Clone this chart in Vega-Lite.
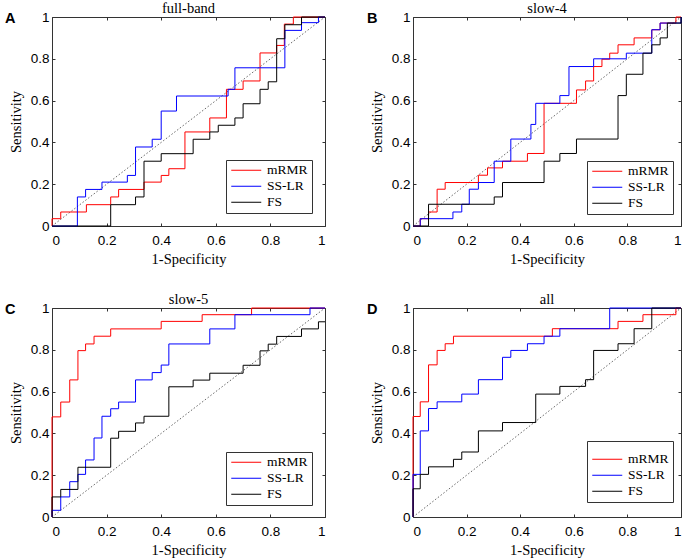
{
"$schema":"https://vega.github.io/schema/vega-lite/v6.json",
"background":"white",
"autosize":{"type":"pad"},
"padding":{"left":4,"top":0,"right":0,"bottom":0},
"datasets":{
"diag":[{"x":0,"y":0},{"x":1,"y":1}],
"roc":[
{"panel":"full-band","method":"mRMR","i":0,"x":0,"y":0},
{"panel":"full-band","method":"mRMR","i":1,"x":0,"y":0.035},
{"panel":"full-band","method":"mRMR","i":2,"x":0.032,"y":0.067},
{"panel":"full-band","method":"mRMR","i":3,"x":0.126,"y":0.102},
{"panel":"full-band","method":"mRMR","i":4,"x":0.215,"y":0.139},
{"panel":"full-band","method":"mRMR","i":5,"x":0.244,"y":0.175},
{"panel":"full-band","method":"mRMR","i":6,"x":0.337,"y":0.21},
{"panel":"full-band","method":"mRMR","i":7,"x":0.4,"y":0.242},
{"panel":"full-band","method":"mRMR","i":8,"x":0.428,"y":0.274},
{"panel":"full-band","method":"mRMR","i":9,"x":0.487,"y":0.45},
{"panel":"full-band","method":"mRMR","i":10,"x":0.578,"y":0.517},
{"panel":"full-band","method":"mRMR","i":11,"x":0.639,"y":0.654},
{"panel":"full-band","method":"mRMR","i":12,"x":0.7,"y":0.694},
{"panel":"full-band","method":"mRMR","i":13,"x":0.762,"y":0.828},
{"panel":"full-band","method":"mRMR","i":14,"x":0.823,"y":0.864},
{"panel":"full-band","method":"mRMR","i":15,"x":0.851,"y":0.966},
{"panel":"full-band","method":"mRMR","i":16,"x":0.884,"y":1},
{"panel":"full-band","method":"mRMR","i":17,"x":1,"y":1},
{"panel":"full-band","method":"SS-LR","i":0,"x":0,"y":0},
{"panel":"full-band","method":"SS-LR","i":1,"x":0.093,"y":0.139},
{"panel":"full-band","method":"SS-LR","i":2,"x":0.123,"y":0.175},
{"panel":"full-band","method":"SS-LR","i":3,"x":0.183,"y":0.21},
{"panel":"full-band","method":"SS-LR","i":4,"x":0.276,"y":0.242},
{"panel":"full-band","method":"SS-LR","i":5,"x":0.306,"y":0.378},
{"panel":"full-band","method":"SS-LR","i":6,"x":0.367,"y":0.415},
{"panel":"full-band","method":"SS-LR","i":7,"x":0.4,"y":0.55},
{"panel":"full-band","method":"SS-LR","i":8,"x":0.456,"y":0.622},
{"panel":"full-band","method":"SS-LR","i":9,"x":0.645,"y":0.654},
{"panel":"full-band","method":"SS-LR","i":10,"x":0.67,"y":0.757},
{"panel":"full-band","method":"SS-LR","i":11,"x":0.853,"y":0.936},
{"panel":"full-band","method":"SS-LR","i":12,"x":0.914,"y":0.973},
{"panel":"full-band","method":"SS-LR","i":13,"x":0.976,"y":1},
{"panel":"full-band","method":"SS-LR","i":14,"x":1,"y":1},
{"panel":"full-band","method":"FS","i":0,"x":0,"y":0},
{"panel":"full-band","method":"FS","i":1,"x":0.215,"y":0.102},
{"panel":"full-band","method":"FS","i":2,"x":0.306,"y":0.139},
{"panel":"full-band","method":"FS","i":3,"x":0.337,"y":0.31},
{"panel":"full-band","method":"FS","i":4,"x":0.4,"y":0.346},
{"panel":"full-band","method":"FS","i":5,"x":0.517,"y":0.415},
{"panel":"full-band","method":"FS","i":6,"x":0.578,"y":0.45},
{"panel":"full-band","method":"FS","i":7,"x":0.609,"y":0.482},
{"panel":"full-band","method":"FS","i":8,"x":0.67,"y":0.517},
{"panel":"full-band","method":"FS","i":9,"x":0.7,"y":0.585},
{"panel":"full-band","method":"FS","i":10,"x":0.762,"y":0.654},
{"panel":"full-band","method":"FS","i":11,"x":0.792,"y":0.69},
{"panel":"full-band","method":"FS","i":12,"x":0.823,"y":0.896},
{"panel":"full-band","method":"FS","i":13,"x":0.853,"y":0.963},
{"panel":"full-band","method":"FS","i":14,"x":0.914,"y":1},
{"panel":"full-band","method":"FS","i":15,"x":1,"y":1},
{"panel":"slow-4","method":"mRMR","i":0,"x":0,"y":0},
{"panel":"slow-4","method":"mRMR","i":1,"x":0.027,"y":0.035},
{"panel":"slow-4","method":"mRMR","i":2,"x":0.058,"y":0.067},
{"panel":"slow-4","method":"mRMR","i":3,"x":0.09,"y":0.176},
{"panel":"slow-4","method":"mRMR","i":4,"x":0.12,"y":0.208},
{"panel":"slow-4","method":"mRMR","i":5,"x":0.244,"y":0.243},
{"panel":"slow-4","method":"mRMR","i":6,"x":0.278,"y":0.278},
{"panel":"slow-4","method":"mRMR","i":7,"x":0.334,"y":0.31},
{"panel":"slow-4","method":"mRMR","i":8,"x":0.427,"y":0.347},
{"panel":"slow-4","method":"mRMR","i":9,"x":0.489,"y":0.587},
{"panel":"slow-4","method":"mRMR","i":10,"x":0.61,"y":0.651},
{"panel":"slow-4","method":"mRMR","i":11,"x":0.644,"y":0.694},
{"panel":"slow-4","method":"mRMR","i":12,"x":0.674,"y":0.763},
{"panel":"slow-4","method":"mRMR","i":13,"x":0.705,"y":0.798},
{"panel":"slow-4","method":"mRMR","i":14,"x":0.734,"y":0.827},
{"panel":"slow-4","method":"mRMR","i":15,"x":0.765,"y":0.867},
{"panel":"slow-4","method":"mRMR","i":16,"x":0.825,"y":0.9},
{"panel":"slow-4","method":"mRMR","i":17,"x":0.891,"y":0.939},
{"panel":"slow-4","method":"mRMR","i":18,"x":0.922,"y":0.971},
{"panel":"slow-4","method":"mRMR","i":19,"x":0.981,"y":1},
{"panel":"slow-4","method":"mRMR","i":20,"x":1,"y":1},
{"panel":"slow-4","method":"SS-LR","i":0,"x":0,"y":0},
{"panel":"slow-4","method":"SS-LR","i":1,"x":0.027,"y":0.035},
{"panel":"slow-4","method":"SS-LR","i":2,"x":0.149,"y":0.067},
{"panel":"slow-4","method":"SS-LR","i":3,"x":0.182,"y":0.104},
{"panel":"slow-4","method":"SS-LR","i":4,"x":0.21,"y":0.176},
{"panel":"slow-4","method":"SS-LR","i":5,"x":0.244,"y":0.208},
{"panel":"slow-4","method":"SS-LR","i":6,"x":0.303,"y":0.31},
{"panel":"slow-4","method":"SS-LR","i":7,"x":0.365,"y":0.416},
{"panel":"slow-4","method":"SS-LR","i":8,"x":0.44,"y":0.486},
{"panel":"slow-4","method":"SS-LR","i":9,"x":0.458,"y":0.587},
{"panel":"slow-4","method":"SS-LR","i":10,"x":0.548,"y":0.624},
{"panel":"slow-4","method":"SS-LR","i":11,"x":0.582,"y":0.763},
{"panel":"slow-4","method":"SS-LR","i":12,"x":0.674,"y":0.8},
{"panel":"slow-4","method":"SS-LR","i":13,"x":0.796,"y":0.827},
{"panel":"slow-4","method":"SS-LR","i":14,"x":0.891,"y":0.939},
{"panel":"slow-4","method":"SS-LR","i":15,"x":0.922,"y":0.971},
{"panel":"slow-4","method":"SS-LR","i":16,"x":1,"y":1},
{"panel":"slow-4","method":"FS","i":0,"x":0,"y":0},
{"panel":"slow-4","method":"FS","i":1,"x":0.058,"y":0.104},
{"panel":"slow-4","method":"FS","i":2,"x":0.303,"y":0.139},
{"panel":"slow-4","method":"FS","i":3,"x":0.334,"y":0.208},
{"panel":"slow-4","method":"FS","i":4,"x":0.489,"y":0.31},
{"panel":"slow-4","method":"FS","i":5,"x":0.548,"y":0.347},
{"panel":"slow-4","method":"FS","i":6,"x":0.61,"y":0.416},
{"panel":"slow-4","method":"FS","i":7,"x":0.765,"y":0.624},
{"panel":"slow-4","method":"FS","i":8,"x":0.796,"y":0.726},
{"panel":"slow-4","method":"FS","i":9,"x":0.858,"y":0.827},
{"panel":"slow-4","method":"FS","i":10,"x":0.891,"y":0.867},
{"panel":"slow-4","method":"FS","i":11,"x":0.922,"y":0.9},
{"panel":"slow-4","method":"FS","i":12,"x":0.949,"y":0.971},
{"panel":"slow-4","method":"FS","i":13,"x":1,"y":1},
{"panel":"slow-5","method":"mRMR","i":0,"x":0,"y":0},
{"panel":"slow-5","method":"mRMR","i":1,"x":0,"y":0.479},
{"panel":"slow-5","method":"mRMR","i":2,"x":0.032,"y":0.55},
{"panel":"slow-5","method":"mRMR","i":3,"x":0.065,"y":0.656},
{"panel":"slow-5","method":"mRMR","i":4,"x":0.095,"y":0.796},
{"panel":"slow-5","method":"mRMR","i":5,"x":0.123,"y":0.828},
{"panel":"slow-5","method":"mRMR","i":6,"x":0.154,"y":0.865},
{"panel":"slow-5","method":"mRMR","i":7,"x":0.215,"y":0.9},
{"panel":"slow-5","method":"mRMR","i":8,"x":0.4,"y":0.936},
{"panel":"slow-5","method":"mRMR","i":9,"x":0.55,"y":0.968},
{"panel":"slow-5","method":"mRMR","i":10,"x":0.731,"y":1},
{"panel":"slow-5","method":"mRMR","i":11,"x":1,"y":1},
{"panel":"slow-5","method":"SS-LR","i":0,"x":0,"y":0},
{"panel":"slow-5","method":"SS-LR","i":1,"x":0,"y":0.032},
{"panel":"slow-5","method":"SS-LR","i":2,"x":0.032,"y":0.096},
{"panel":"slow-5","method":"SS-LR","i":3,"x":0.065,"y":0.169},
{"panel":"slow-5","method":"SS-LR","i":4,"x":0.095,"y":0.204},
{"panel":"slow-5","method":"SS-LR","i":5,"x":0.123,"y":0.273},
{"panel":"slow-5","method":"SS-LR","i":6,"x":0.154,"y":0.378},
{"panel":"slow-5","method":"SS-LR","i":7,"x":0.183,"y":0.482},
{"panel":"slow-5","method":"SS-LR","i":8,"x":0.215,"y":0.518},
{"panel":"slow-5","method":"SS-LR","i":9,"x":0.244,"y":0.55},
{"panel":"slow-5","method":"SS-LR","i":10,"x":0.306,"y":0.656},
{"panel":"slow-5","method":"SS-LR","i":11,"x":0.367,"y":0.691},
{"panel":"slow-5","method":"SS-LR","i":12,"x":0.4,"y":0.727},
{"panel":"slow-5","method":"SS-LR","i":13,"x":0.428,"y":0.828},
{"panel":"slow-5","method":"SS-LR","i":14,"x":0.578,"y":0.9},
{"panel":"slow-5","method":"SS-LR","i":15,"x":0.67,"y":0.968},
{"panel":"slow-5","method":"SS-LR","i":16,"x":0.945,"y":1},
{"panel":"slow-5","method":"SS-LR","i":17,"x":1,"y":1},
{"panel":"slow-5","method":"FS","i":0,"x":0,"y":0},
{"panel":"slow-5","method":"FS","i":1,"x":0,"y":0.096},
{"panel":"slow-5","method":"FS","i":2,"x":0.032,"y":0.132},
{"panel":"slow-5","method":"FS","i":3,"x":0.095,"y":0.238},
{"panel":"slow-5","method":"FS","i":4,"x":0.215,"y":0.377},
{"panel":"slow-5","method":"FS","i":5,"x":0.244,"y":0.41},
{"panel":"slow-5","method":"FS","i":6,"x":0.306,"y":0.45},
{"panel":"slow-5","method":"FS","i":7,"x":0.337,"y":0.482},
{"panel":"slow-5","method":"FS","i":8,"x":0.428,"y":0.623},
{"panel":"slow-5","method":"FS","i":9,"x":0.517,"y":0.655},
{"panel":"slow-5","method":"FS","i":10,"x":0.578,"y":0.688},
{"panel":"slow-5","method":"FS","i":11,"x":0.7,"y":0.726},
{"panel":"slow-5","method":"FS","i":12,"x":0.762,"y":0.795},
{"panel":"slow-5","method":"FS","i":13,"x":0.792,"y":0.827},
{"panel":"slow-5","method":"FS","i":14,"x":0.823,"y":0.864},
{"panel":"slow-5","method":"FS","i":15,"x":0.914,"y":0.9},
{"panel":"slow-5","method":"FS","i":16,"x":0.976,"y":0.934},
{"panel":"slow-5","method":"FS","i":17,"x":1,"y":0.934},
{"panel":"all","method":"mRMR","i":0,"x":0,"y":0},
{"panel":"all","method":"mRMR","i":1,"x":0,"y":0.481},
{"panel":"all","method":"mRMR","i":2,"x":0.027,"y":0.551},
{"panel":"all","method":"mRMR","i":3,"x":0.058,"y":0.728},
{"panel":"all","method":"mRMR","i":4,"x":0.09,"y":0.797},
{"panel":"all","method":"mRMR","i":5,"x":0.12,"y":0.829},
{"panel":"all","method":"mRMR","i":6,"x":0.151,"y":0.865},
{"panel":"all","method":"mRMR","i":7,"x":0.52,"y":0.901},
{"panel":"all","method":"mRMR","i":8,"x":0.765,"y":0.936},
{"panel":"all","method":"mRMR","i":9,"x":0.858,"y":0.968},
{"panel":"all","method":"mRMR","i":10,"x":0.981,"y":1},
{"panel":"all","method":"mRMR","i":11,"x":1,"y":1},
{"panel":"all","method":"SS-LR","i":0,"x":0,"y":0},
{"panel":"all","method":"SS-LR","i":1,"x":0,"y":0.204},
{"panel":"all","method":"SS-LR","i":2,"x":0.027,"y":0.412},
{"panel":"all","method":"SS-LR","i":3,"x":0.058,"y":0.519},
{"panel":"all","method":"SS-LR","i":4,"x":0.09,"y":0.551},
{"panel":"all","method":"SS-LR","i":5,"x":0.182,"y":0.588},
{"panel":"all","method":"SS-LR","i":6,"x":0.244,"y":0.657},
{"panel":"all","method":"SS-LR","i":7,"x":0.334,"y":0.764},
{"panel":"all","method":"SS-LR","i":8,"x":0.365,"y":0.797},
{"panel":"all","method":"SS-LR","i":9,"x":0.427,"y":0.829},
{"panel":"all","method":"SS-LR","i":10,"x":0.489,"y":0.865},
{"panel":"all","method":"SS-LR","i":11,"x":0.548,"y":0.901},
{"panel":"all","method":"SS-LR","i":12,"x":0.734,"y":1},
{"panel":"all","method":"SS-LR","i":13,"x":1,"y":1},
{"panel":"all","method":"FS","i":0,"x":0,"y":0},
{"panel":"all","method":"FS","i":1,"x":0,"y":0.135},
{"panel":"all","method":"FS","i":2,"x":0.027,"y":0.204},
{"panel":"all","method":"FS","i":3,"x":0.058,"y":0.24},
{"panel":"all","method":"FS","i":4,"x":0.151,"y":0.276},
{"panel":"all","method":"FS","i":5,"x":0.182,"y":0.311},
{"panel":"all","method":"FS","i":6,"x":0.244,"y":0.412},
{"panel":"all","method":"FS","i":7,"x":0.334,"y":0.452},
{"panel":"all","method":"FS","i":8,"x":0.458,"y":0.588},
{"panel":"all","method":"FS","i":9,"x":0.548,"y":0.625},
{"panel":"all","method":"FS","i":10,"x":0.644,"y":0.657},
{"panel":"all","method":"FS","i":11,"x":0.674,"y":0.797},
{"panel":"all","method":"FS","i":12,"x":0.765,"y":0.829},
{"panel":"all","method":"FS","i":13,"x":0.825,"y":0.901},
{"panel":"all","method":"FS","i":14,"x":0.891,"y":1},
{"panel":"all","method":"FS","i":15,"x":1,"y":1}
]},
"config":{
"view":{"stroke":"#333","strokeWidth":1},
"axis":{"domain":false,"grid":false,"tickSize":-3,"tickColor":"#333","labelFont":"Liberation Sans","labelFontSize":13.5,"labelColor":"#000","titleFont":"Liberation Serif","titleFontSize":14.5,"titleFontWeight":"normal","titleColor":"#000","format":"~g"},
"title":{"font":"Liberation Serif","fontSize":14.5,"fontWeight":"normal","color":"#000","offset":-6},
"legend":{"fillColor":"white","strokeColor":"#333","padding":3.5,"rowPadding":1,"symbolType":"M-3,0H3","symbolSize":100,"symbolStrokeWidth":1,"symbolOffset":10,"labelOffset":14,"labelFont":"Liberation Serif","labelFontSize":13.5,"labelColor":"#000"}
},
"concat":[
{"width":273,"height":209,"title":{"text":"full-band"},
"layer":[
{"data":{"name":"diag"},"mark":{"type":"line","stroke":"#555","strokeDash":[1.5,2],"strokeWidth":0.9},
"encoding":{"x":{"field":"x","type":"quantitative","scale":{"domain":[0,1],"nice":false},"axis":{"orient":"bottom","values":[0,0.2,0.4,0.6,0.8,1],"title":"1-Specificity","labelPadding":10,"titlePadding":6}},
"y":{"field":"y","type":"quantitative","scale":{"domain":[0,1],"nice":false},"axis":{"orient":"left","values":[0,0.2,0.4,0.6,0.8,1],"title":"Sensitivity","labelPadding":6,"titlePadding":7}}}},
{"data":{"name":"roc"},"transform":[{"filter":"datum.panel === 'full-band'"}],"mark":{"type":"line","interpolate":"step-after","strokeWidth":1},
"encoding":{"x":{"field":"x","type":"quantitative","scale":{"domain":[0,1],"nice":false},"axis":{"orient":"top","values":[0,0.2,0.4,0.6,0.8,1],"labels":false,"title":null}},
"y":{"field":"y","type":"quantitative","scale":{"domain":[0,1],"nice":false},"axis":{"orient":"right","values":[0,0.2,0.4,0.6,0.8,1],"labels":false,"title":null}},
"color":{"field":"method","type":"nominal","scale":{"domain":["mRMR","SS-LR","FS"],"range":["#ff0000","#0000ff","#000000"]},"legend":{"title":null,"orient":"none","legendX":174,"legendY":143,"labelExpr":"datum.label + '\u00a0\u00a0\u00a0\u00a0'"}},
"order":{"field":"i","type":"quantitative"}}},
{"data":{"values":[{"letter":"A"}]},"mark":{"type":"text","font":"Liberation Sans","fontWeight":"bold","fontSize":14.5,"align":"left","baseline":"alphabetic"},
"encoding":{"x":{"datum":-0.172,"type":"quantitative","scale":{"domain":[0,1],"nice":false},"axis":null},"y":{"datum":0.972,"type":"quantitative","scale":{"domain":[0,1],"nice":false},"axis":null},"text":{"field":"letter"}}}
],
"resolve":{"axis":{"x":"independent","y":"independent"}}},
{"width":268,"height":209,"title":{"text":"slow-4"},
"layer":[
{"data":{"name":"diag"},"mark":{"type":"line","stroke":"#555","strokeDash":[1.5,2],"strokeWidth":0.9},
"encoding":{"x":{"field":"x","type":"quantitative","scale":{"domain":[0,1],"nice":false},"axis":{"orient":"bottom","values":[0,0.2,0.4,0.6,0.8,1],"title":"1-Specificity","labelPadding":10,"titlePadding":6}},
"y":{"field":"y","type":"quantitative","scale":{"domain":[0,1],"nice":false},"axis":{"orient":"left","values":[0,0.2,0.4,0.6,0.8,1],"title":"Sensitivity","labelPadding":6,"titlePadding":7}}}},
{"data":{"name":"roc"},"transform":[{"filter":"datum.panel === 'slow-4'"}],"mark":{"type":"line","interpolate":"step-after","strokeWidth":1},
"encoding":{"x":{"field":"x","type":"quantitative","scale":{"domain":[0,1],"nice":false},"axis":{"orient":"top","values":[0,0.2,0.4,0.6,0.8,1],"labels":false,"title":null}},
"y":{"field":"y","type":"quantitative","scale":{"domain":[0,1],"nice":false},"axis":{"orient":"right","values":[0,0.2,0.4,0.6,0.8,1],"labels":false,"title":null}},
"color":{"field":"method","type":"nominal","scale":{"domain":["mRMR","SS-LR","FS"],"range":["#ff0000","#0000ff","#000000"]},"legend":{"title":null,"orient":"none","legendX":174,"legendY":144,"labelExpr":"datum.label"}},
"order":{"field":"i","type":"quantitative"}}},
{"data":{"values":[{"letter":"B"}]},"mark":{"type":"text","font":"Liberation Sans","fontWeight":"bold","fontSize":14.5,"align":"left","baseline":"alphabetic"},
"encoding":{"x":{"datum":-0.172,"type":"quantitative","scale":{"domain":[0,1],"nice":false},"axis":null},"y":{"datum":0.972,"type":"quantitative","scale":{"domain":[0,1],"nice":false},"axis":null},"text":{"field":"letter"}}}
],
"resolve":{"axis":{"x":"independent","y":"independent"}}},
{"width":273,"height":209,"title":{"text":"slow-5"},
"layer":[
{"data":{"name":"diag"},"mark":{"type":"line","stroke":"#555","strokeDash":[1.5,2],"strokeWidth":0.9},
"encoding":{"x":{"field":"x","type":"quantitative","scale":{"domain":[0,1],"nice":false},"axis":{"orient":"bottom","values":[0,0.2,0.4,0.6,0.8,1],"title":"1-Specificity","labelPadding":10,"titlePadding":6}},
"y":{"field":"y","type":"quantitative","scale":{"domain":[0,1],"nice":false},"axis":{"orient":"left","values":[0,0.2,0.4,0.6,0.8,1],"title":"Sensitivity","labelPadding":6,"titlePadding":7}}}},
{"data":{"name":"roc"},"transform":[{"filter":"datum.panel === 'slow-5'"}],"mark":{"type":"line","interpolate":"step-after","strokeWidth":1},
"encoding":{"x":{"field":"x","type":"quantitative","scale":{"domain":[0,1],"nice":false},"axis":{"orient":"top","values":[0,0.2,0.4,0.6,0.8,1],"labels":false,"title":null}},
"y":{"field":"y","type":"quantitative","scale":{"domain":[0,1],"nice":false},"axis":{"orient":"right","values":[0,0.2,0.4,0.6,0.8,1],"labels":false,"title":null}},
"color":{"field":"method","type":"nominal","scale":{"domain":["mRMR","SS-LR","FS"],"range":["#ff0000","#0000ff","#000000"]},"legend":{"title":null,"orient":"none","legendX":174,"legendY":144,"labelExpr":"datum.label + '\u00a0\u00a0\u00a0\u00a0'"}},
"order":{"field":"i","type":"quantitative"}}},
{"data":{"values":[{"letter":"C"}]},"mark":{"type":"text","font":"Liberation Sans","fontWeight":"bold","fontSize":14.5,"align":"left","baseline":"alphabetic"},
"encoding":{"x":{"datum":-0.172,"type":"quantitative","scale":{"domain":[0,1],"nice":false},"axis":null},"y":{"datum":0.972,"type":"quantitative","scale":{"domain":[0,1],"nice":false},"axis":null},"text":{"field":"letter"}}}
],
"resolve":{"axis":{"x":"independent","y":"independent"}}},
{"width":268,"height":209,"title":{"text":"all"},
"layer":[
{"data":{"name":"diag"},"mark":{"type":"line","stroke":"#555","strokeDash":[1.5,2],"strokeWidth":0.9},
"encoding":{"x":{"field":"x","type":"quantitative","scale":{"domain":[0,1],"nice":false},"axis":{"orient":"bottom","values":[0,0.2,0.4,0.6,0.8,1],"title":"1-Specificity","labelPadding":10,"titlePadding":6}},
"y":{"field":"y","type":"quantitative","scale":{"domain":[0,1],"nice":false},"axis":{"orient":"left","values":[0,0.2,0.4,0.6,0.8,1],"title":"Sensitivity","labelPadding":6,"titlePadding":7}}}},
{"data":{"name":"roc"},"transform":[{"filter":"datum.panel === 'all'"}],"mark":{"type":"line","interpolate":"step-after","strokeWidth":1},
"encoding":{"x":{"field":"x","type":"quantitative","scale":{"domain":[0,1],"nice":false},"axis":{"orient":"top","values":[0,0.2,0.4,0.6,0.8,1],"labels":false,"title":null}},
"y":{"field":"y","type":"quantitative","scale":{"domain":[0,1],"nice":false},"axis":{"orient":"right","values":[0,0.2,0.4,0.6,0.8,1],"labels":false,"title":null}},
"color":{"field":"method","type":"nominal","scale":{"domain":["mRMR","SS-LR","FS"],"range":["#ff0000","#0000ff","#000000"]},"legend":{"title":" ","titleFontSize":6,"titlePadding":2,"orient":"none","legendX":174,"legendY":133,"labelExpr":"datum.label"}},
"order":{"field":"i","type":"quantitative"}}},
{"data":{"values":[{"letter":"D"}]},"mark":{"type":"text","font":"Liberation Sans","fontWeight":"bold","fontSize":14.5,"align":"left","baseline":"alphabetic"},
"encoding":{"x":{"datum":-0.172,"type":"quantitative","scale":{"domain":[0,1],"nice":false},"axis":null},"y":{"datum":0.972,"type":"quantitative","scale":{"domain":[0,1],"nice":false},"axis":null},"text":{"field":"letter"}}}
],
"resolve":{"axis":{"x":"independent","y":"independent"}}}
],
"columns":2,
"spacing":{"row":82,"column":88},
"bounds":"flush",
"resolve":{"scale":{"color":"independent"},"legend":{"color":"independent"}}
}
